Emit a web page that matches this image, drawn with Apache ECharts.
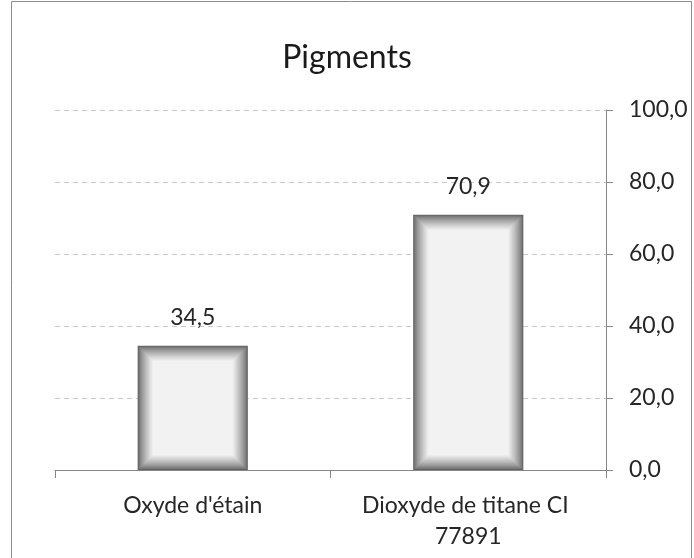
<!DOCTYPE html>
<html>
<head>
<meta charset="utf-8">
<script src="https://cdn.jsdelivr.net/npm/echarts@6/dist/echarts.min.js"></script>
<style>
  html, body { margin: 0; padding: 0; background: #fff; }
  #chart { width: 694px; height: 558px; }
</style>
</head>
<body>
<div id="chart"></div>
<script>
const categories = ['Oxyde d\'étain', 'Dioxyde de titane CI 77891'];
const values = [34.5, 70.9];
const yTicks = [0, 20, 40, 60, 80, 100];

const chart = echarts.init(document.getElementById('chart'));

// bar with a soft dark inner edge, like the shaded bars of the original
function renderBar(params, api) {
  const idx = api.value(0);
  const v = api.value(1);
  const top = api.coord([idx, v]);
  const base = api.coord([idx, 0]);
  const w = api.size([1, 0])[0] * 0.4;
  const x = top[0] - w / 2, y = top[1], h = base[1] - top[1];
  const steps = 16;
  const kids = [];
  for (let i = 0; i < steps; i++) {
    const t = i / (steps - 1);
    const c = Math.round(100 + (242 - 100) * Math.pow(t, 0.75));
    kids.push({
      type: 'rect',
      shape: { x: x + i, y: y + i, width: w - 2 * i, height: h - 2 * i },
      style: { fill: 'rgb(' + c + ',' + c + ',' + c + ')' }
    });
  }
  kids.push({
    type: 'text',
    style: {
      text: v.toFixed(1).replace('.', ','),
      x: top[0], y: y - 28,
      align: 'center', verticalAlign: 'middle',
      font: '23px Lato', fill: '#262626'
    }
  });
  return { type: 'group', children: kids };
}

chart.setOption({
  animation: false,
  textStyle: { fontFamily: 'Lato' },
  title: {
    text: 'Pigments',
    left: 'center',
    top: 37,
    textStyle: { fontSize: 32, fontWeight: 'normal', color: '#1a1a1a', fontFamily: 'Lato' }
  },
  graphic: [{
    type: 'rect',
    shape: { x: 11.5, y: 1.5, width: 680, height: 600 },
    style: { fill: null, stroke: '#8c8c8c', lineWidth: 1 }
  }],
  grid: { left: 55, right: 88, top: 110, bottom: 88 },
  xAxis: {
    type: 'category',
    data: categories,
    axisLine: { lineStyle: { color: '#868686' } },
    axisTick: { show: true, alignWithLabel: false, length: 8, lineStyle: { color: '#868686' } },
    axisLabel: {
      interval: 0, hideOverlap: false,
      fontSize: 23, color: '#262626', margin: 20, lineHeight: 31,
      width: 240, overflow: 'break'
    }
  },
  yAxis: {
    type: 'value',
    position: 'right',
    min: 0, max: 100, interval: 20,
    axisLine: { show: true, lineStyle: { color: '#868686' } },
    axisTick: { show: true, length: 7, lineStyle: { color: '#868686' } },
    axisLabel: {
      fontSize: 23, color: '#262626', margin: 23,
      formatter: v => yTicks.includes(v) ? v.toFixed(1).replace('.', ',') : ''
    },
    splitLine: { lineStyle: { color: '#c8c8c8', type: [5, 4] } }
  },
  series: [{
    type: 'custom',
    renderItem: renderBar,
    data: values.map((v, i) => [i, v]),
    encode: { x: 0, y: 1 }
  }]
});
</script>
</body>
</html>
